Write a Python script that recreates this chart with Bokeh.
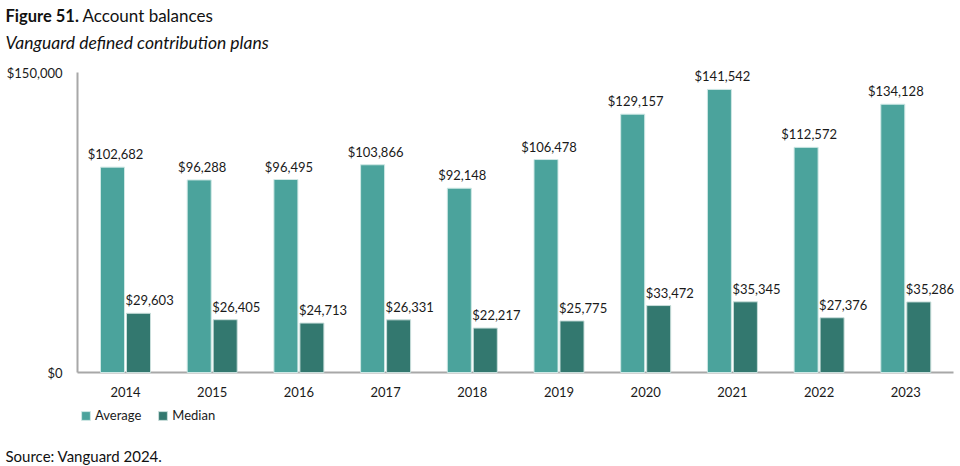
from bokeh.plotting import figure
from bokeh.models import ColumnDataSource, Range1d, Label, Legend, LegendItem
from bokeh.core.properties import value
from bokeh.embed import file_html
from bokeh.resources import INLINE

years = ["2014", "2015", "2016", "2017", "2018", "2019", "2020", "2021", "2022", "2023"]
average = [102682, 96288, 96495, 103866, 92148, 106478, 129157, 141542, 112572, 134128]
median = [29603, 26405, 24713, 26331, 22217, 25775, 33472, 35345, 27376, 35286]
ytick_vals = [0, 150000]
ytick_labels = ["$0", "$150,000"]

AVG_COLOR = "#4BA39C"
MED_COLOR = "#33786F"
AXIS_COLOR = "#A8A8A8"
TEXT = "#1a1a1a"
FONT = "Lato"

# geometry: picture pixels -> data units
W, H = 960, 466
PX_CAT = 86.7            # px per category
X_FIRST_PX = 125.0       # first category centre (px)
AX_L, AX_R = 77.0, 953.0 # x-axis line extent (px)
AX_T, AX_B = 72.0, 372.0 # y of 150,000 and of 0 (px)
Y_MAX = ytick_vals[-1]
PY = (AX_B - AX_T) / Y_MAX

def dx(px):
    return (px - X_FIRST_PX) / PX_CAT

def dy(py):
    return (AX_B - py) / PY

p = figure(width=W, height=H, output_backend="svg", toolbar_location=None,
           x_range=Range1d(dx(0), dx(W)), y_range=Range1d(dy(H), dy(0)),
           x_axis_location=None, y_axis_location=None,
           min_border=0, min_border_left=0, min_border_right=0,
           min_border_top=0, min_border_bottom=0)
p.outline_line_color = None
p.xgrid.visible = False
p.ygrid.visible = False
p.background_fill_color = "white"
p.border_fill_color = "white"

idx = list(range(len(years)))
off = 13 / PX_CAT
bw = 24 / PX_CAT
src = ColumnDataSource(dict(
    xa=[i - off for i in idx],
    xm=[i + off for i in idx],
    xml=[i + off - bw / 2 for i in idx],
    avg=average, med=median,
    avg_lbl=["${:,}".format(v) for v in average],
    med_lbl=["${:,}".format(v) for v in median],
))

# axis lines
p.segment(x0=[dx(AX_L)], y0=[0], x1=[dx(AX_R)], y1=[0], line_color=AXIS_COLOR, line_width=2)
p.segment(x0=[dx(AX_L)], y0=[0], x1=[dx(AX_L)], y1=[Y_MAX], line_color=AXIS_COLOR, line_width=2)

ra = p.vbar(x="xa", top="avg", bottom=0, width=bw, source=src, fill_color=AVG_COLOR,
            line_color="#CFE8E5", line_width=1)
rm = p.vbar(x="xm", top="med", bottom=0, width=bw, source=src, fill_color=MED_COLOR,
            line_color="#C9DEDB", line_width=1)

p.text(x="xa", y="avg", text="avg_lbl", source=src, text_align="center", text_baseline="bottom",
       x_offset=3, y_offset=-5, text_font=value(FONT), text_font_size="13px", text_color=TEXT)
p.text(x="xml", y="med", text="med_lbl", source=src, text_align="left", text_baseline="bottom",
       x_offset=-1, y_offset=-5, text_font=value(FONT), text_font_size="13px", text_color=TEXT)

# x tick labels
p.text(x=idx, y=[dy(391)] * len(idx), text=years, text_align="center", text_baseline="middle",
       text_font=value(FONT), text_font_size="13px", text_color=TEXT)

# y tick labels
p.text(x=[dx(62)] * len(ytick_vals), y=ytick_vals, text=ytick_labels, text_align="right",
       text_baseline="middle", text_font=value(FONT), text_font_size="13px", text_color=TEXT)

# titles
p.add_layout(Label(x=dx(5), y=dy(15), text="Figure 51.", text_font=FONT, text_font_style="bold",
                   text_font_size="16.5px", text_baseline="middle", text_color="#111111"))
p.add_layout(Label(x=dx(82), y=dy(15), text="Account balances", text_font=FONT,
                   text_font_size="17px", text_baseline="middle", text_color="#111111"))
p.add_layout(Label(x=dx(5), y=dy(42), text="Vanguard defined contribution plans", text_font=FONT,
                   text_font_style="italic", text_font_size="17.5px", text_baseline="middle",
                   text_color="#111111"))
p.add_layout(Label(x=dx(5), y=dy(455), text="Source: Vanguard 2024.", text_font=FONT,
                   text_font_size="15px", text_baseline="middle", text_color="#111111"))

legend = Legend(items=[LegendItem(label="Average", renderers=[ra]),
                       LegendItem(label="Median", renderers=[rm])],
                location=(80, H - 423), orientation="horizontal", padding=0, margin=0,
                spacing=16, glyph_width=11, glyph_height=11, label_height=14,
                label_standoff=4, label_text_font=FONT, label_text_font_size="13px",
                label_text_color=TEXT, border_line_color=None, background_fill_alpha=0)
p.add_layout(legend)

open("out.html", "w").write(file_html(p, INLINE))
